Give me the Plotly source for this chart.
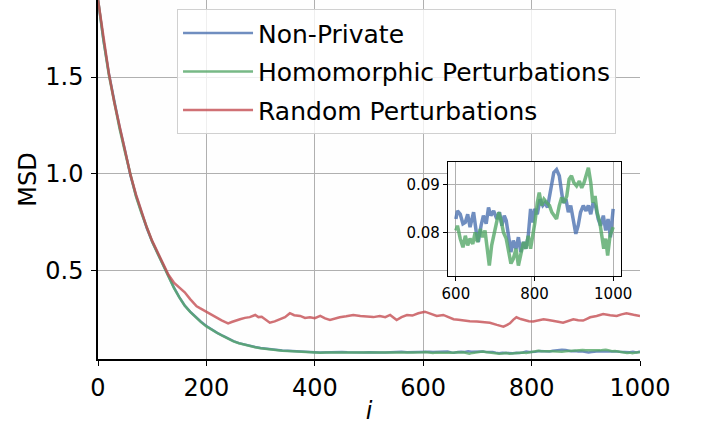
import plotly.graph_objects as go

# ---------------- data ----------------
head_iters = list(range(0, 600, 10))

nonpriv_head = [1.90, 1.69, 1.52, 1.37, 1.24, 1.12, 0.99, 0.89, 0.80, 0.72,
                0.65, 0.59, 0.53, 0.475, 0.415, 0.365, 0.322, 0.290, 0.262, 0.238,
                0.216, 0.197, 0.181, 0.166, 0.151, 0.138, 0.128, 0.120, 0.113, 0.108,
                0.103, 0.099, 0.095, 0.092, 0.090, 0.088, 0.086, 0.085, 0.083, 0.082,
                0.081, 0.080, 0.081, 0.079, 0.080, 0.082, 0.081, 0.080, 0.079, 0.080,
                0.081, 0.082, 0.080, 0.079, 0.081, 0.082, 0.083, 0.081, 0.082, 0.083]

homo_head = [1.90, 1.69, 1.51, 1.36, 1.23, 1.11, 0.99, 0.885, 0.80, 0.72,
             0.65, 0.59, 0.53, 0.473, 0.413, 0.364, 0.321, 0.289, 0.261, 0.236,
             0.214, 0.196, 0.180, 0.165, 0.150, 0.137, 0.127, 0.119, 0.112, 0.107,
             0.102, 0.098, 0.094, 0.091, 0.089, 0.087, 0.085, 0.084, 0.082, 0.081,
             0.079, 0.078, 0.079, 0.080, 0.078, 0.079, 0.080, 0.079, 0.078, 0.079,
             0.080, 0.079, 0.078, 0.079, 0.080, 0.079, 0.078, 0.079, 0.080, 0.079]

nonpriv_tail_iters = [600, 604, 611, 618, 624, 630, 636, 645, 652, 657, 664, 670, 677, 683,
                      689, 696, 704, 711, 717, 723, 728, 734, 740, 746, 753, 759, 765, 772,
                      778, 784, 790, 795, 801, 807, 814, 821, 827, 833, 839, 844, 849, 856,
                      863, 869, 873, 880, 886, 892, 899, 905, 911, 917, 924, 931, 937, 943,
                      949, 956, 962, 968, 975, 981, 987, 993, 1000]
nonpriv_tail = [0.0829, 0.0846, 0.0839, 0.0819, 0.0822, 0.0839, 0.0812, 0.0843, 0.0801, 0.0781,
                0.0815, 0.0836, 0.0819, 0.0853, 0.0836, 0.0846, 0.0829, 0.0843, 0.0815, 0.0836,
                0.0826, 0.0788, 0.0760, 0.0784, 0.0767, 0.0791, 0.0760, 0.0781, 0.0767, 0.0794,
                0.0850, 0.0822, 0.0850, 0.0839, 0.0870, 0.0857, 0.0863, 0.0853, 0.0884, 0.0905,
                0.0926, 0.0932, 0.0919, 0.0884, 0.0863, 0.0870, 0.0843, 0.0857, 0.0829, 0.0798,
                0.0815, 0.0843, 0.0857, 0.0846, 0.0857, 0.0839, 0.0863, 0.0853, 0.0829, 0.0815,
                0.0836, 0.0805, 0.0829, 0.0791, 0.0850]

homo_tail_iters = [600, 604, 611, 618, 624, 630, 636, 643, 649, 655, 662, 668, 674, 680,
                   685, 691, 697, 704, 709, 715, 721, 728, 734, 740, 746, 753, 759, 765,
                   772, 778, 784, 790, 795, 801, 807, 812, 818, 824, 831, 838, 844, 849,
                   856, 863, 869, 875, 882, 888, 894, 900, 907, 914, 920, 926, 932, 937,
                   943, 948, 954, 959, 966, 971, 976, 981, 986, 992, 997, 1000]
homo_tail = [0.0805, 0.0815, 0.0788, 0.0770, 0.0794, 0.0774, 0.0788, 0.0777, 0.0801, 0.0781,
             0.0808, 0.0791, 0.0805, 0.0767, 0.0732, 0.0774, 0.0798, 0.0822, 0.0843, 0.0826,
             0.0801, 0.0788, 0.0760, 0.0736, 0.0746, 0.0767, 0.0732, 0.0753, 0.0781, 0.0767,
             0.0794, 0.0767, 0.0788, 0.0822, 0.0863, 0.0884, 0.0857, 0.0870, 0.0863, 0.0857,
             0.0843, 0.0836, 0.0829, 0.0857, 0.0874, 0.0863, 0.0877, 0.0912, 0.0919, 0.0905,
             0.0898, 0.0908, 0.0894, 0.0905, 0.0926, 0.0936, 0.0905, 0.0863, 0.0877, 0.0843,
             0.0822, 0.0794, 0.0767, 0.0788, 0.0753, 0.0794, 0.0808, 0.0812]

random_iters = [0, 10, 20, 30, 40, 50, 60, 70, 80, 90, 100, 110, 120, 130, 140, 150, 160,
                170, 176, 182, 188, 194, 200, 210, 219, 228, 235, 240, 248, 255, 262, 271,
                280, 290, 296, 302, 310, 317, 326, 336, 345, 354, 362, 373, 382, 391, 400,
                410, 419, 428, 437, 446, 458, 471, 484, 496, 508, 520, 530, 539, 551, 560,
                570, 580, 591, 603, 614, 625, 637, 646, 656, 665, 674, 686, 699, 711, 723,
                736, 748, 754, 760, 766, 772, 780, 788, 795, 803, 812, 822, 831, 840, 849,
                858, 867, 877, 886, 895, 902, 908, 920, 932, 945, 957, 966, 975, 988, 1000]
random_vals = [1.90, 1.70, 1.52, 1.37, 1.24, 1.12, 0.995, 0.895, 0.805, 0.725, 0.655, 0.595,
               0.535, 0.48, 0.44, 0.415, 0.39, 0.355, 0.335, 0.318, 0.308, 0.298, 0.288,
               0.272, 0.256, 0.245, 0.236, 0.230, 0.238, 0.246, 0.251, 0.258, 0.262, 0.273,
               0.262, 0.264, 0.245, 0.233, 0.240, 0.251, 0.262, 0.282, 0.272, 0.268, 0.258,
               0.261, 0.256, 0.268, 0.255, 0.247, 0.256, 0.261, 0.266, 0.273, 0.268, 0.264,
               0.262, 0.268, 0.262, 0.273, 0.247, 0.262, 0.273, 0.270, 0.282, 0.290, 0.278,
               0.268, 0.273, 0.262, 0.251, 0.248, 0.244, 0.241, 0.239, 0.236, 0.233, 0.222,
               0.213, 0.221, 0.230, 0.248, 0.261, 0.252, 0.244, 0.241, 0.239, 0.246, 0.251,
               0.247, 0.244, 0.238, 0.233, 0.243, 0.251, 0.246, 0.244, 0.253, 0.261, 0.268,
               0.278, 0.272, 0.268, 0.276, 0.282, 0.274, 0.268]

x_ticks = [0, 200, 400, 600, 800, 1000]
y_ticks = [0.5, 1.0, 1.5]
inset_x_ticks = [600, 800, 1000]
inset_y_ticks = [0.08, 0.09]

BLUE = "rgba(76,114,176,0.8)"
GREEN = "rgba(85,168,104,0.8)"
RED = "rgba(196,78,82,0.8)"
FONT = "DejaVu Sans"

np_x = head_iters + nonpriv_tail_iters
np_y = nonpriv_head + nonpriv_tail
ho_x = head_iters + homo_tail_iters
ho_y = homo_head + homo_tail

fig = go.Figure()
fig.add_trace(go.Scatter(x=np_x, y=np_y, mode="lines", name="Non-Private",
                         line=dict(color=BLUE, width=2.5), legendgroup="a"))
fig.add_trace(go.Scatter(x=ho_x, y=ho_y, mode="lines", name="Homomorphic Perturbations",
                         line=dict(color=GREEN, width=2.5), legendgroup="b"))
fig.add_trace(go.Scatter(x=random_iters, y=random_vals, mode="lines", name="Random Perturbations",
                         line=dict(color=RED, width=2.5), legendgroup="c"))
# inset
fig.add_trace(go.Scatter(x=nonpriv_tail_iters, y=nonpriv_tail, mode="lines", showlegend=False,
                         line=dict(color=BLUE, width=3.5), xaxis="x2", yaxis="y2"))
fig.add_trace(go.Scatter(x=homo_tail_iters, y=homo_tail, mode="lines", showlegend=False,
                         line=dict(color=GREEN, width=3.5), xaxis="x2", yaxis="y2"))

grid = "#b0b0b0"
fig.update_layout(
    width=704, height=425,
    margin=dict(l=98, r=64, t=0, b=66, autoexpand=False),
    paper_bgcolor="white", plot_bgcolor="#fefefe",
    font=dict(family=FONT, color="black", size=24),
    showlegend=True,
    legend=dict(x=0.1458, y=0.974, xanchor="left", yanchor="top",
                font=dict(size=25, family=FONT, color="black"),
                bgcolor="rgba(255,255,255,0.8)", bordercolor="#d0d0d0", borderwidth=1,
                tracegroupgap=3, itemwidth=70),
    xaxis=dict(domain=[0, 1], range=[0, 1000], tickvals=x_ticks,
               ticks="outside", ticklen=5, tickwidth=1.2, tickcolor="black",
               showline=True, linecolor="black", linewidth=1.5, mirror=False,
               showgrid=True, gridcolor=grid, gridwidth=1, zeroline=False,
               tickfont=dict(size=24), ticklabelstandoff=1,
               title=dict(text="<i>i</i>", font=dict(size=24), standoff=3)),
    yaxis=dict(domain=[0, 1], range=[0.046, 1.897], tickvals=y_ticks, tickformat=".1f",
               ticks="outside", ticklen=5, tickwidth=1.2, tickcolor="black",
               showline=True, linecolor="black", linewidth=1.5,
               showgrid=True, gridcolor=grid, gridwidth=1, zeroline=False,
               tickfont=dict(size=24), ticklabelstandoff=3,
               title=dict(text="MSD", font=dict(size=24), standoff=2)),
    xaxis2=dict(domain=[0.6458, 0.965], anchor="y2", range=[580, 1020],
                tickvals=inset_x_ticks, ticks="outside", ticklen=4, tickwidth=1,
                tickcolor="black", showline=True, linecolor="black", linewidth=1.2,
                mirror=True, showgrid=True, gridcolor=grid, gridwidth=1, zeroline=False,
                tickfont=dict(size=15)),
    yaxis2=dict(domain=[0.231, 0.549], anchor="x2", range=[0.0710, 0.0948],
                tickvals=inset_y_ticks, tickformat=".2f", ticks="outside", ticklen=4,
                tickwidth=1, tickcolor="black", showline=True, linecolor="black",
                linewidth=1.2, mirror=True, showgrid=True, gridcolor=grid, gridwidth=1,
                zeroline=False, tickfont=dict(size=15)),
)

fig.write_html("out.html", config={"displayModeBar": False},
               post_script="document.body.style.margin='0px';")
